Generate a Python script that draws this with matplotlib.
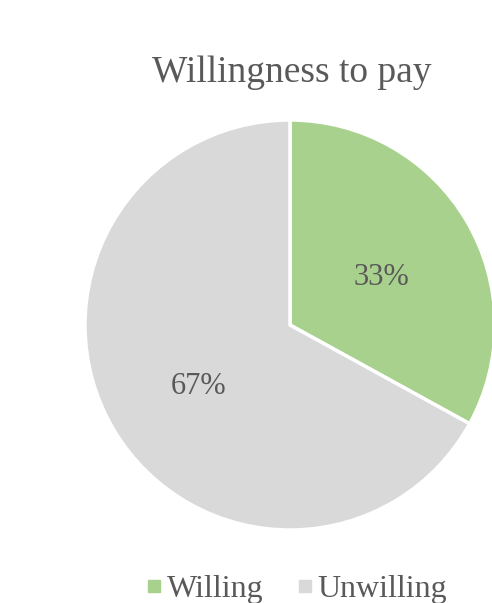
import matplotlib.pyplot as plt
from matplotlib.lines import Line2D

labels = ['Willing', 'Unwilling']
values = [33, 67]
colors = ['#A9D18E', '#D9D9D9']
txt = '#595959'

plt.rcParams['font.family'] = ['Liberation Serif', 'DejaVu Serif']

W, H = 492, 603
fig = plt.figure(figsize=(W / 100, H / 100), dpi=100)
ax = fig.add_axes([0, 0, 1, 1])
ax.set_xlim(0, W)
ax.set_ylim(0, H)
ax.set_aspect('equal')
ax.axis('off')

wedges, texts, autotexts = ax.pie(values, colors=colors, startangle=90, counterclock=False,
                                  center=(290, H - 325), radius=205,
                                  autopct='%d%%', pctdistance=0.52,
                                  wedgeprops=dict(edgecolor='white', linewidth=2.5),
                                  textprops=dict(color=txt, fontsize=22))
# nudge labels down a little, like the original
for t in autotexts:
    x, y = t.get_position()
    t.set_position((x, y - 7))
ax.set_xlim(0, W)
ax.set_ylim(0, H)

fig.text(292 / W, 1 - 73 / H, 'Willingness to pay', ha='center', va='center',
         fontsize=27, color=txt)

handles = [Line2D([], [], marker='s', linestyle='none', markersize=8,
                  markerfacecolor=c, markeredgecolor=c) for c in colors]
fig.legend(handles, labels, loc='center', bbox_to_anchor=(296 / W, 1 - 589 / H),
           ncol=2, frameon=False, fontsize=23, labelcolor=txt,
           handletextpad=0.1, columnspacing=1.0, handlelength=0.6)

fig.savefig('out.png', dpi=100)
